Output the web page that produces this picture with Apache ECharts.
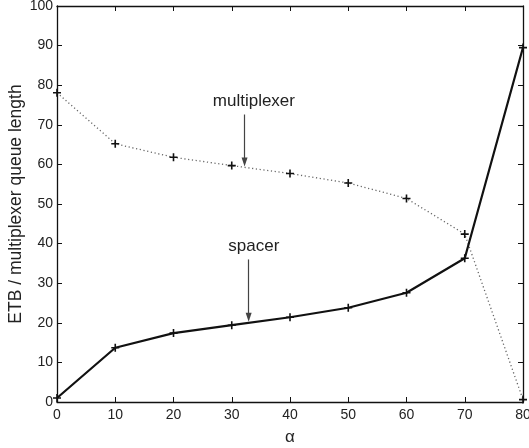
<!DOCTYPE html>
<html>
<head>
<meta charset="utf-8">
<script src="https://cdn.jsdelivr.net/npm/echarts@6/dist/echarts.min.js"></script>
<style>html,body{margin:0;padding:0;background:#fff}#c{width:529px;height:448px}</style>
</head>
<body>
<div id="c"></div>
<script>
var alphaValues = [0, 10, 20, 30, 40, 50, 60, 70, 80];
var spacerValues = [1.0, 13.7, 17.4, 19.4, 21.4, 23.8, 27.6, 36.3, 89.5];
var multiplexerValues = [78.1, 65.2, 61.8, 59.7, 57.7, 55.3, 51.4, 42.4, 0.6];
var xTicks = [0, 10, 20, 30, 40, 50, 60, 70, 80];
var yTicks = [0, 10, 20, 30, 40, 50, 60, 70, 80, 90, 100];
var annotations = [
  {text: 'multiplexer', textAt: [33.8, 76.0], arrowFrom: [32.2, 72.6], arrowTo: [32.2, 60.6]},
  {text: 'spacer', textAt: [33.8, 39.2], arrowFrom: [32.9, 36.0], arrowTo: [32.9, 21.4]}
];

var plus = 'path://M4,0h2v4h4v2h-4v4h-2v-4h-4v-2h4z';
var font = 'Liberation Sans, Arial, Helvetica, sans-serif';
function pairs(ys){ return alphaValues.map(function(x,i){return [x, ys[i]];}); }

var chart = echarts.init(document.getElementById('c'), null, {renderer:'canvas'});
var axisCommon = {
  axisLine: {show: true, onZero: false, lineStyle: {color: '#111', width: 1.3}},
  axisTick: {show: true, inside: true, length: 5, lineStyle: {color: '#111', width: 1}},
  splitLine: {show: false}
};
var option = {
  animation: false,
  backgroundColor: '#fff',
  grid: {left: 57, top: 6, right: 6, bottom: 46, containLabel: false, outerBoundsMode: 'none'},
  xAxis: [
    Object.assign({type: 'value', min: xTicks[0], max: xTicks[xTicks.length-1], interval: 10,
      position: 'bottom', name: 'α', nameLocation: 'middle', nameGap: 27, nameMoveOverlap: false,
      nameTextStyle: {fontSize: 17, color: '#222', fontFamily: font},
      axisLabel: {fontSize: 14, color: '#222', margin: 6, fontFamily: font}}, axisCommon),
    Object.assign({type: 'value', min: xTicks[0], max: xTicks[xTicks.length-1], interval: 10,
      position: 'top', axisLabel: {show: false}}, axisCommon)
  ],
  yAxis: [
    Object.assign({type: 'value', min: yTicks[0], max: yTicks[yTicks.length-1], interval: 10,
      position: 'left', name: 'ETB / multiplexer queue length', nameLocation: 'middle', nameGap: 32,
      nameMoveOverlap: false,
      nameTextStyle: {fontSize: 17.5, color: '#222', fontFamily: font},
      axisLabel: {fontSize: 14, color: '#222', margin: 4, fontFamily: font}}, axisCommon),
    Object.assign({type: 'value', min: yTicks[0], max: yTicks[yTicks.length-1], interval: 10,
      position: 'right', axisLabel: {show: false}}, axisCommon)
  ],
  series: [
    {
      name: 'multiplexer', type: 'line', data: pairs(multiplexerValues),
      symbol: plus, symbolSize: 8, showSymbol: true,
      itemStyle: {color: '#111'},
      lineStyle: {color: '#666', width: 1.3, type: [1.2, 2.6]},
      z: 2
    },
    {
      name: 'spacer', type: 'line', data: pairs(spacerValues),
      symbol: plus, symbolSize: 8, showSymbol: true,
      itemStyle: {color: '#111'},
      lineStyle: {color: '#111', width: 2.2},
      z: 3,
      markLine: {
        silent: true, symbol: ['none', 'triangle'], symbolSize: [6, 9],
        lineStyle: {color: '#444', width: 1.2, type: 'solid'},
        label: {show: false},
        data: annotations.map(function(a){ return [{coord: a.arrowFrom}, {coord: a.arrowTo}]; })
      },
      markPoint: {
        silent: true, symbol: 'circle', symbolSize: 0,
        label: {show: true, position: 'inside', fontSize: 17, color: '#222', fontFamily: font,
          formatter: function(p){ return p.name; }},
        data: annotations.map(function(a){ return {name: a.text, coord: a.textAt}; })
      }
    }
  ]
};
chart.setOption(option);
</script>
</body>
</html>
